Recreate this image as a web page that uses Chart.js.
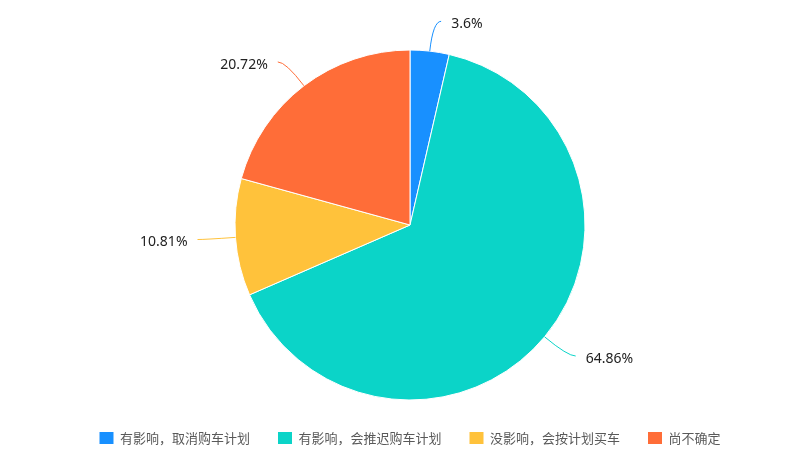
<!DOCTYPE html>
<html>
<head>
<meta charset="utf-8">
<script src="https://cdn.jsdelivr.net/npm/chart.js@4/dist/chart.umd.min.js"></script>
<style>
  html, body { margin: 0; padding: 0; background: #fff; }
  #wrap { width: 808px; height: 465px; position: relative; }
</style>
</head>
<body>
<div id="wrap"><canvas id="pie"></canvas></div>
<script>
const categories = ['有影响，取消购车计划', '有影响，会推迟购车计划', '没影响，会按计划买车', '尚不确定'];
const shares = [3.6, 64.86, 10.81, 20.72];
const colors = ['#1890FF', '#0BD4C8', '#FFC23B', '#FF6D38'];

// outside labels with a bent leader line, like the original
const leaderLabels = {
  id: 'leaderLabels',
  afterDatasetsDraw(chart) {
    const ctx = chart.ctx;
    const meta = chart.getDatasetMeta(0);
    ctx.save();
    ctx.font = '14px "Noto Sans", "DejaVu Sans", sans-serif';
    ctx.textBaseline = 'middle';
    meta.data.forEach((arc, i) => {
      const p = arc.getProps(['x', 'y', 'startAngle', 'endAngle', 'outerRadius'], true);
      const mid = (p.startAngle + p.endAngle) / 2;
      const cos = Math.cos(mid), sin = Math.sin(mid);
      const side = cos >= 0 ? 1 : -1;
      const x0 = p.x + p.outerRadius * cos, y0 = p.y + p.outerRadius * sin;
      const x1 = p.x + (p.outerRadius + 30) * cos, y1 = p.y + (p.outerRadius + 30) * sin;
      const x2 = x1 + side * 8, y2 = y1;
      ctx.strokeStyle = colors[i];
      ctx.lineWidth = 1;
      ctx.beginPath();
      ctx.moveTo(x0, y0);
      ctx.quadraticCurveTo(x1, y1, x2, y2);
      ctx.stroke();
      ctx.fillStyle = '#222';
      ctx.textAlign = side > 0 ? 'left' : 'right';
      ctx.fillText(shares[i] + '%', x2 + side * 10, y2 + 3);
    });
    ctx.restore();
  }
};

const baseLabels = Chart.overrides.pie.plugins.legend.labels.generateLabels;

new Chart(document.getElementById('pie'), {
  type: 'pie',
  plugins: [leaderLabels],
  data: {
    labels: categories,
    datasets: [{
      data: shares,
      backgroundColor: colors,
      borderColor: '#fff',
      borderWidth: 1,
      radius: 175
    }]
  },
  options: {
    responsive: true,
    maintainAspectRatio: false,
    animation: false,
    layout: { padding: { left: 12, right: 0, top: 46.5, bottom: 10.5 } },
    plugins: {
      tooltip: { enabled: false },
      legend: {
        position: 'bottom',
        labels: {
          boxWidth: 14,
          boxHeight: 12,
          padding: 28,
          color: '#595959',
          font: { size: 13, family: '"Noto Sans CJK SC", "Noto Sans", sans-serif' },
          generateLabels(chart) {
            return baseLabels(chart).map(l => Object.assign(l, { lineWidth: 0, strokeStyle: l.fillStyle }));
          }
        }
      }
    }
  }
});
</script>
</body>
</html>
